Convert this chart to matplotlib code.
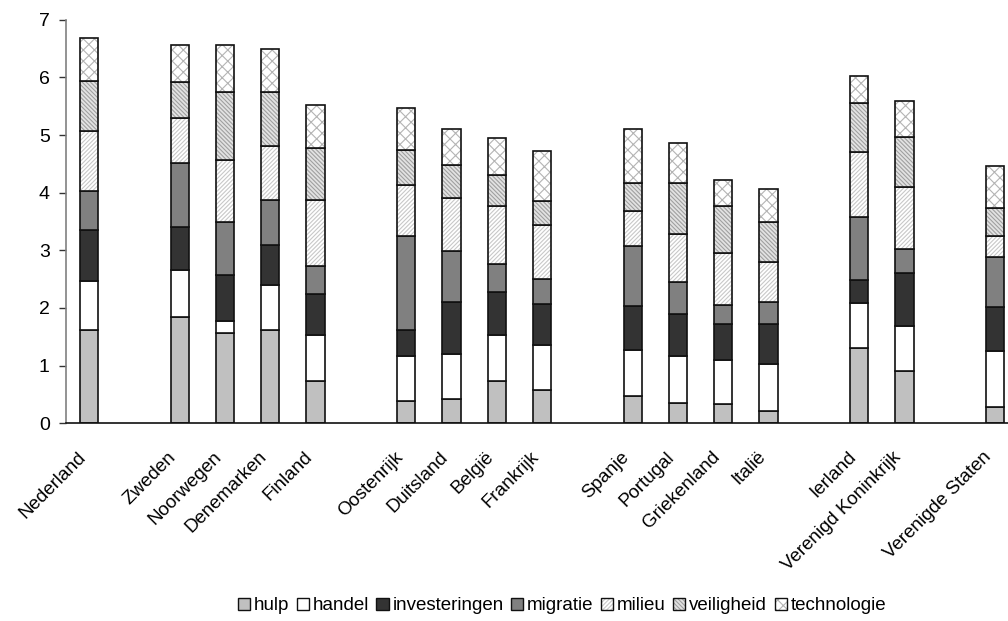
import matplotlib
matplotlib.use("Agg")
import matplotlib.pyplot as plt
import matplotlib.transforms as mtransforms
from matplotlib.patches import Patch
import numpy as np

plt.rcParams['font.family'] = ['Liberation Sans', 'DejaVu Sans']
plt.rcParams['hatch.linewidth'] = 0.8

# slot layout: None = empty gap slot
countries = ["Nederland", None, "Zweden", "Noorwegen", "Denemarken", "Finland", None,
             "Oostenrijk", "Duitsland", "België", "Frankrijk", None,
             "Spanje", "Portugal", "Griekenland", "Italië", None,
             "Ierland", "Verenigd Koninkrijk", None, "Verenigde Staten"]

series_names = ["hulp", "handel", "investeringen", "migratie", "milieu", "veiligheid", "technologie"]

hulp          = [1.62, 1.85, 1.57, 1.62, 0.73, 0.39, 0.42, 0.73, 0.57, 0.47, 0.36, 0.33, 0.22, 1.31, 0.90, 0.28]
handel        = [0.84, 0.81, 0.20, 0.78, 0.81, 0.78, 0.78, 0.80, 0.79, 0.80, 0.81, 0.77, 0.80, 0.77, 0.79, 0.97]
investeringen = [0.89, 0.75, 0.80, 0.69, 0.70, 0.44, 0.91, 0.74, 0.71, 0.77, 0.72, 0.63, 0.70, 0.41, 0.91, 0.77]
migratie      = [0.68, 1.11, 0.92, 0.78, 0.48, 1.64, 0.88, 0.50, 0.43, 1.04, 0.56, 0.32, 0.39, 1.08, 0.42, 0.86]
milieu        = [1.04, 0.78, 1.08, 0.94, 1.15, 0.89, 0.91, 1.00, 0.94, 0.60, 0.83, 0.91, 0.68, 1.14, 1.08, 0.36]
veiligheid    = [0.87, 0.62, 1.18, 0.94, 0.90, 0.60, 0.58, 0.54, 0.42, 0.48, 0.88, 0.81, 0.70, 0.84, 0.86, 0.50]
technologie   = [0.74, 0.64, 0.81, 0.75, 0.75, 0.72, 0.62, 0.63, 0.87, 0.95, 0.71, 0.45, 0.57, 0.48, 0.63, 0.72]

series = [hulp, handel, investeringen, migratie, milieu, veiligheid, technologie]

# style: (facecolor, hatch, hatch color)
styles = [
    ("#c0c0c0", None, None),
    ("#ffffff", None, None),
    ("#333333", None, None),
    ("#808080", None, None),
    ("#ffffff", "////////", "#c8c8c8"),
    ("#e2e2e2", "\\\\\\\\\\\\\\\\", "#a0a0a0"),
    ("#ffffff", "xxx", "#b4b4b4"),
]

fig = plt.figure(figsize=(10.08, 6.21), dpi=100)
ax = fig.add_axes([66.4 / 1008, 1 - 423.3 / 621, (1017.7 - 66.4) / 1008, (423.3 - 19.7) / 621])

x = np.array([i for i, c in enumerate(countries) if c is not None])
width = 0.4

bottom = np.zeros(len(x))
for vals, (fc, hatch, hc) in zip(series, styles):
    vals = np.array(vals)
    if hatch:
        ax.bar(x, vals, width, bottom=bottom, color=fc, hatch=hatch, edgecolor=hc, linewidth=0)
        ax.bar(x, vals, width, bottom=bottom, fill=False, edgecolor="#111111", linewidth=1.2)
    else:
        ax.bar(x, vals, width, bottom=bottom, color=fc, edgecolor="#111111", linewidth=1.2)
    bottom = bottom + vals

ax.set_xlim(-0.5, len(countries) - 0.5)
ax.set_ylim(0, 7)
ax.set_yticks(range(0, 8))
ax.set_xticks(x)
ax.set_xticklabels([c for c in countries if c is not None], rotation=45, ha='right',
                   rotation_mode='anchor', fontsize=13.5)
ax.tick_params(axis='x', length=0, pad=18)
ax.tick_params(axis='y', direction='out', length=5, width=1, color='#333333', labelsize=14, pad=7)
offset = mtransforms.ScaledTranslation(-12 / 100, 0, fig.dpi_scale_trans)
for lab in ax.get_xticklabels():
    lab.set_transform(lab.get_transform() + offset)

for s in ['top', 'right']:
    ax.spines[s].set_visible(False)
ax.spines['left'].set_color('#808080')
ax.spines['left'].set_linewidth(1.2)
ax.spines['bottom'].set_color('#111111')
ax.spines['bottom'].set_linewidth(1.2)

handles = []
for fc, hatch, hc in styles:
    if hatch:
        h = (Patch(facecolor=fc, hatch=hatch, edgecolor=hc, linewidth=0),
             Patch(fill=False, edgecolor="#111111", linewidth=1.0))
    else:
        h = Patch(facecolor=fc, edgecolor="#111111", linewidth=1.0)
    handles.append(h)

fig.legend(handles, series_names, loc='center', bbox_to_anchor=(562 / 1008, 1 - 606 / 621),
           ncol=7, frameon=False, fontsize=13.5, handlelength=0.65, handleheight=0.65,
           handletextpad=0.2, columnspacing=0.4, borderpad=0)

fig.savefig("out.png", dpi=100)
